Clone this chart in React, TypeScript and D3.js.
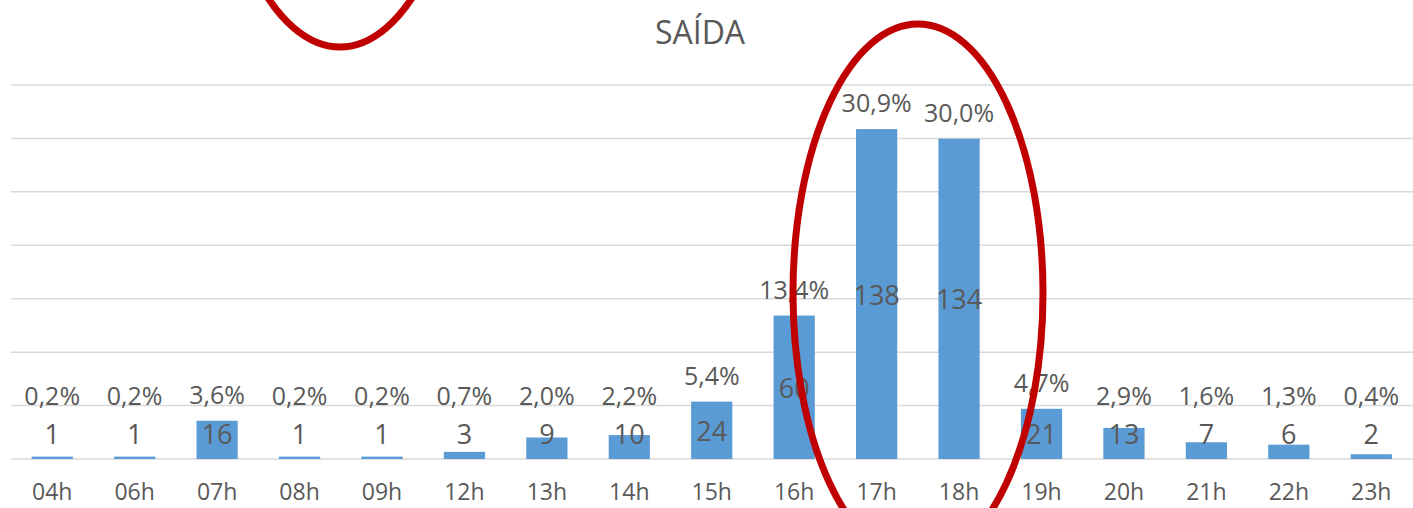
import React from "react";
import * as d3 from "d3";

const categories = ["04h","06h","07h","08h","09h","12h","13h","14h","15h","16h","17h","18h","19h","20h","21h","22h","23h"];
const counts = [1,1,16,1,1,3,9,10,24,60,138,134,21,13,7,6,2];
const pctLabels = ["0,2%","0,2%","3,6%","0,2%","0,2%","0,7%","2,0%","2,2%","5,4%","13,4%","30,9%","30,0%","4,7%","2,9%","1,6%","1,3%","0,4%"];
const gridPct = [0,5,10,15,20,25,30,35];
const title = "SAÍDA";

const W = 1413, H = 508;
const TXT = "#595959";
const FONT = "'Open Sans', 'Noto Sans', sans-serif";

export default function App() {
  const total = d3.sum(counts);
  const x = d3.scaleBand<string>().domain(categories).range([11, 1412.5]).paddingInner(0.5).paddingOuter(0.25);
  const y = d3.scaleLinear().domain([0, 35]).range([459, 85]);
  const base = y(0);
  const toPct = (c: number) => (c / total) * 100;

  return (
    <svg width={W} height={H} style={{ position: "absolute", left: 0, top: 0, background: "#fff" }} fontFamily={FONT}>
      {gridPct.map((g) => (
        <line key={g} x1={11} x2={W} y1={y(g)} y2={y(g)} stroke="#D9D9D9" strokeWidth={1.5} />
      ))}
      {categories.map((c, i) => {
        const top = y(toPct(counts[i]));
        return (
          <rect key={c} x={x(c)} y={top} width={x.bandwidth()} height={base - top} fill="#5B9BD5" />
        );
      })}
      {categories.map((c, i) => {
        const top = y(toPct(counts[i]));
        const mid = (top + base) / 2;
        const cy = Math.min(mid, base - 26);
        const py = Math.min(top - 27, base - 64);
        const cx = (x(c) as number) + x.bandwidth() / 2;
        return (
          <g key={"l" + c}>
            <text x={cx} y={cy} textAnchor="middle" dominantBaseline="central" fontSize={27} fill={TXT}>{counts[i]}</text>
            <text x={cx} y={py} textAnchor="middle" dominantBaseline="central" fontSize={25} fill={TXT}>{pctLabels[i]}</text>
            <text x={cx} y={491} textAnchor="middle" dominantBaseline="central" fontSize={23} fill={TXT}>{c}</text>
          </g>
        );
      })}
      <text x={700} y={31} textAnchor="middle" dominantBaseline="central" fontSize={32} fill={TXT}>{title}</text>
      <ellipse cx={918} cy={293} rx={125} ry={269} fill="none" stroke="#C00000" strokeWidth={7} />
      <ellipse cx={340} cy={-222} rx={125} ry={269} fill="none" stroke="#C00000" strokeWidth={7} />
    </svg>
  );
}
